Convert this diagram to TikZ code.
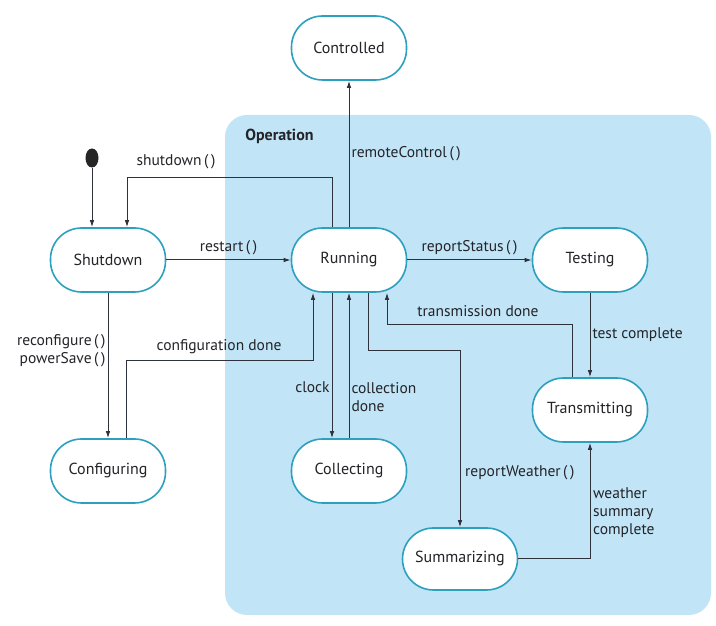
\documentclass[tikz,border=0pt]{standalone}
\usepackage{fontspec}
\setmainfont{PT Sans}
\usepackage{tikz}
\usetikzlibrary{shapes.geometric, arrows.meta, positioning, calc}
\definecolor{opblue}{RGB}{193,229,247}
\definecolor{stateedge}{RGB}{45,160,190}
\definecolor{linedark}{RGB}{45,50,60}
\definecolor{txtdark}{RGB}{35,35,40}
\tikzset{
  state/.style={rectangle, draw=stateedge, fill=white, line width=1.6pt,
    minimum width=115pt, minimum height=64pt, rounded corners=31pt,
    font=\fontsize{16}{18}\selectfont, text=txtdark},
  arrow/.style={-{Latex[length=7pt,width=4.5pt]}, line width=1pt, color=linedark},
  line/.style={line width=1pt, color=linedark},
  lbl/.style={font=\fontsize{15.5}{18}\selectfont, text=txtdark, inner sep=2pt}
}

\begin{document}
\begin{tikzpicture}[x=1pt, y=1pt]
  \useasboundingbox (0,0) rectangle (716,626);

  % Operation superstate
  \node[rectangle, fill=opblue, rounded corners=22pt, minimum width=486pt,
    minimum height=500pt, inner sep=0pt] (op) at (468,261) {};
  \node[font=\fontsize{16}{18}\selectfont\bfseries, text=txtdark, anchor=west]
    (oplabel) at ([xshift=17pt,yshift=-22pt]op.north west) {Operation};

  % Initial state
  \node[ellipse, fill=black!85, minimum width=13pt, minimum height=19pt, inner sep=0pt]
    (init) at (92,468) {};

  % States
  \node[state] (ctrl) at (349,578) {Controlled};
  \node[state] (shut) at (108,366) {Shutdown};
  \node[state] (run) at (349,366) {Running};
  \node[state] (test) at (590,366) {Testing};
  \node[state] (trans) at (590,216) {Transmitting};
  \node[state] (conf) at (108,155) {Configuring};
  \node[state] (coll) at (349,155) {Collecting};
  \node[state, minimum height=62pt] (summ) at (460,67) {Summarizing};

  % Transitions from Shutdown
  \draw[arrow] (init) -- (init |- shut.north);
  \draw[arrow] (shut.east) -- node[lbl, above, yshift=3pt] {restart\,(\,)} (run.west);
  \draw[arrow] (shut.south) -- node[lbl, left, align=right, pos=0.4]
    {reconfigure\,(\,)\\powerSave\,(\,)} (conf.north);

  % Transitions from Running
  \draw[arrow] ([xshift=-17pt]run.north) -- ++(0,50) -| ([xshift=19pt]shut.north);
  \node[lbl] (shutlbl) at (176,464) {shutdown\,(\,)};
  \draw[arrow] (run.north) -- node[lbl, right, pos=0.5] {remoteControl\,(\,)} (ctrl.south);
  \draw[arrow] (run.east) -- node[lbl, above, yshift=3pt] {reportStatus\,(\,)} (test.west);
  \draw[arrow] ([xshift=-17pt]run.south) -- node[lbl, left, pos=0.65] {clock}
    ([xshift=-17pt]coll.north);
  \draw[arrow] ([xshift=19pt]run.south) -- ++(0,-58) -| (summ.north);
  \node[lbl, anchor=west] (wxlbl) at (463,153) {reportWeather\,(\,)};

  % Transitions back to Running
  \draw[arrow] (coll.north) -- node[lbl, right, align=left, pos=0.28]
    {collection\\done} (run.south);
  \draw[arrow] ([xshift=18pt]conf.north) -- ++(0,78) -| ([xshift=-36pt]run.south);
  \node[lbl] (conflbl) at (219,279) {configuration done};
  \draw[arrow] ([xshift=-18pt]trans.north) -- ++(0,53) -| ([xshift=38pt]run.south);
  \node[lbl] (txlbl) at (478,315) {transmission done};

  % Testing and Summarizing to Transmitting
  \draw[arrow] (test.south) -- node[lbl, right, pos=0.5] {test complete} (trans.north);
  \draw[arrow] (summ.east) -| (trans.south);
  \node[lbl, anchor=west, align=left] (sumlbl) at (591,113) {weather\\summary\\complete};
\end{tikzpicture}
\end{document}
